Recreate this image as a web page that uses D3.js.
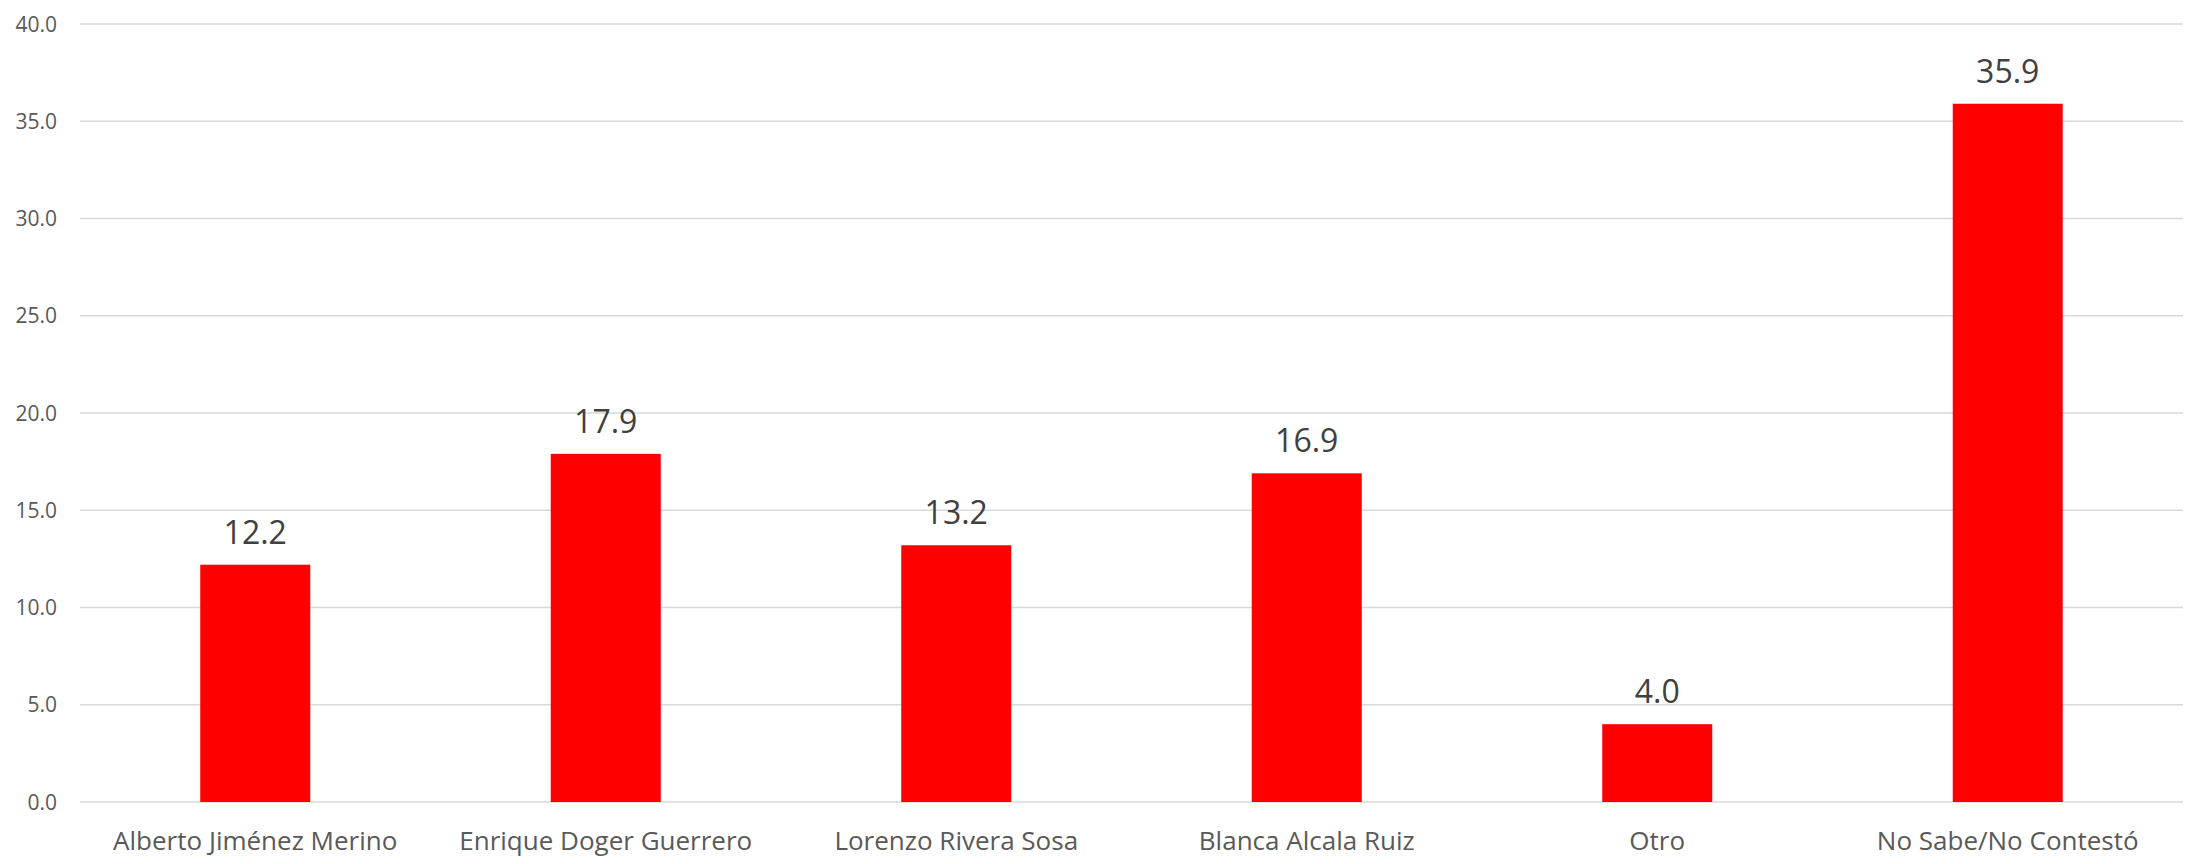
<!DOCTYPE html>
<html><head><meta charset="utf-8">
<script src="https://cdn.jsdelivr.net/npm/d3@7"></script>
<style>html,body{margin:0;padding:0;background:#fff;}</style>
</head><body>
<svg id="chart" width="2190" height="864"></svg>
<script>
const categories = ["Alberto Jiménez Merino","Enrique Doger Guerrero","Lorenzo Rivera Sosa","Blanca Alcala Ruiz","Otro","No Sabe/No Contestó"];
const values = [12.2, 17.9, 13.2, 16.9, 4.0, 35.9];
const yTicks = [0,5,10,15,20,25,30,35,40];

(function(){
const svg = d3.select("#chart");
const mLeft = 80, mRight = 2183, mTop = 24, mBottom = 802;
const font = "'Open Sans', sans-serif";
const x = d3.scaleBand().domain(categories).range([mLeft, mRight]).padding(0);
const y = d3.scaleLinear().domain([0, 40]).range([mBottom, mTop]);
const barW = 110;

svg.append("g").selectAll("line").data(yTicks).join("line")
  .attr("x1", mLeft).attr("x2", mRight)
  .attr("y1", d => y(d)).attr("y2", d => y(d))
  .attr("stroke", "#d9d9d9").attr("stroke-width", 1.5);

svg.append("g").selectAll("text").data(yTicks).join("text")
  .attr("x", 57).attr("y", d => y(d)).attr("dy", "0.36em")
  .attr("text-anchor", "end").attr("font-family", font).attr("font-size", 21)
  .attr("fill", "#595959").text(d => d.toFixed(1));

svg.append("g").selectAll("rect").data(values).join("rect")
  .attr("x", (d,i) => x(categories[i]) + x.bandwidth()/2 - barW/2)
  .attr("width", barW)
  .attr("y", d => y(d)).attr("height", d => y(0) - y(d))
  .attr("fill", "#ff0000");

svg.append("g").selectAll("text").data(values).join("text")
  .attr("x", (d,i) => x(categories[i]) + x.bandwidth()/2)
  .attr("y", d => y(d) - 21)
  .attr("text-anchor", "middle").attr("font-family", font).attr("font-size", 32)
  .attr("fill", "#404040").text(d => d.toFixed(1));

svg.append("g").selectAll("text").data(categories).join("text")
  .attr("x", d => x(d) + x.bandwidth()/2)
  .attr("y", 850)
  .attr("text-anchor", "middle").attr("font-family", font).attr("font-size", 26)
  .attr("fill", "#595959").text(d => d);
})();
</script>
</body></html>
